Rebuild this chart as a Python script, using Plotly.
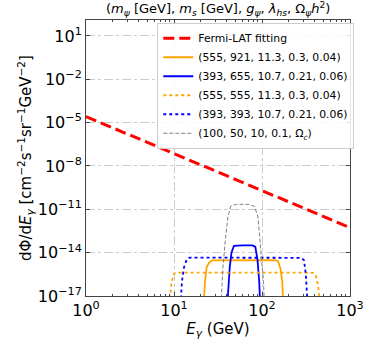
import plotly.graph_objects as go

# Fermi-LAT power-law fit (end points)
fermi_x = [1, 1000]
fermi_y = [2.6e-5, 5.4e-13]

# box-shaped gamma spectra
orange_x = [21.5, 22.5, 23.5, 25, 27, 60, 140, 152, 162, 170, 175]
orange_y = [1e-18, 1e-16, 1e-15, 2e-15, 2.9e-15, 3e-15, 3e-15, 2.6e-15, 8e-16, 1e-16, 1e-18]

blue_x = [40, 41.5, 43, 45, 48, 60, 78, 84, 89, 93, 96]
blue_y = [1e-18, 1e-16, 1e-15, 1e-14, 3e-14, 3.2e-14, 3.2e-14, 2.5e-14, 3e-15, 1e-16, 1e-18]

orange_dot_x = [8.7, 9.0, 9.4, 10, 11, 300, 380, 410, 435, 450, 458]
orange_dot_y = [1e-18, 1e-17, 1e-16, 3.5e-16, 4.1e-16, 4.1e-16, 4e-16, 2.5e-16, 5e-17, 5e-18, 1e-18]

blue_dot_x = [11.8, 12.3, 13, 14, 15, 250, 280, 300, 315, 325, 330]
blue_dot_y = [1e-18, 1e-16, 1e-15, 3.5e-15, 4.5e-15, 4.5e-15, 4.4e-15, 3e-15, 3e-16, 1e-17, 1e-18]

gray_x = [34, 36, 38.5, 41, 44, 50, 70, 82, 90, 98, 104, 107]
gray_y = [1e-18, 1e-15, 1e-13, 3e-12, 1.6e-11, 2.2e-11, 2.2e-11, 1.6e-11, 3e-12, 1e-14, 1e-16, 1e-18]

labels = ["Fermi-LAT fitting",
          "(555, 921, 11.3, 0.3, 0.04)",
          "(393, 655, 10.7, 0.21, 0.06)",
          "(555, 555, 11.3, 0.3, 0.04)",
          "(393, 393, 10.7, 0.21, 0.06)",
          "(100, 50, 10, 0.1, Ω<sub><i>c</i></sub>)"]

x_ticks = [1, 10, 100, 1000]
x_text = ["10<sup>0</sup>", "10<sup>1</sup>", "10<sup>2</sup>", "10<sup>3</sup>"]
x_minor = [m * d for d in (1, 10, 100) for m in range(2, 10)]
y_ticks = [1e-17, 1e-14, 1e-11, 1e-8, 1e-5, 1e-2, 1e1]
y_text = ["10<sup>−17</sup>", "10<sup>−14</sup>", "10<sup>−11</sup>", "10<sup>−8</sup>",
          "10<sup>−5</sup>", "10<sup>−2</sup>", "10<sup>1</sup>"]

fig = go.Figure()
fig.add_trace(go.Scatter(x=fermi_x, y=fermi_y, mode="lines", name=labels[0],
                         line=dict(color="red", width=3, dash="11px,5px")))
fig.add_trace(go.Scatter(x=orange_x, y=orange_y, mode="lines", name=labels[1],
                         line=dict(color="orange", width=1.8)))
fig.add_trace(go.Scatter(x=blue_x, y=blue_y, mode="lines", name=labels[2],
                         line=dict(color="blue", width=1.8)))
fig.add_trace(go.Scatter(x=orange_dot_x, y=orange_dot_y, mode="lines", name=labels[3],
                         line=dict(color="orange", width=1.8, dash="dot")))
fig.add_trace(go.Scatter(x=blue_dot_x, y=blue_dot_y, mode="lines", name=labels[4],
                         line=dict(color="blue", width=1.8, dash="dot")))
fig.add_trace(go.Scatter(x=gray_x, y=gray_y, mode="lines", name=labels[5],
                         line=dict(color="gray", width=1, dash="4px,2px")))

axis_common = dict(
    type="log", showline=True, linecolor="#444", linewidth=1, mirror="allticks",
    ticks="inside", ticklen=4, tickcolor="#444", automargin=False,
    showgrid=True, gridcolor="#cccccc", griddash="dashdot", gridwidth=0.8,
    zeroline=False, tickfont=dict(size=16, color="black"),
)

fig.update_xaxes(**axis_common, range=[0, 3], tickvals=x_ticks, ticktext=x_text,
                 minor=dict(ticks="inside", ticklen=2, tickcolor="#444", showgrid=False,
                            tickvals=x_minor),
                 title=dict(text="<i>E</i><sub><i>γ</i></sub> (GeV)", font=dict(size=15), standoff=4))
fig.update_yaxes(**axis_common, range=[-17, 2.1], tickvals=y_ticks, ticktext=y_text,
                 title=dict(text="dΦ/d<i>E</i><sub><i>γ</i></sub> [cm<sup>−2</sup>s<sup>−1</sup>sr<sup>−1</sup>GeV<sup>−2</sup>]",
                            font=dict(size=15), standoff=2))

fig.add_annotation(
    text="(<i>m<sub>ψ</sub></i> [GeV], <i>m<sub>s</sub></i> [GeV], <i>g<sub>ψ</sub></i>, "
         "<i>λ<sub>hs</sub></i>, Ω<sub><i>ψ</i></sub><i>h</i><sup>2</sup>)",
    xref="paper", yref="paper", x=0.5, y=1, yanchor="bottom", showarrow=False,
    font=dict(size=13, color="black"), yshift=0,
)

fig.update_layout(
    width=371, height=346,
    margin=dict(l=86, r=21, t=20, b=50, autoexpand=False),
    plot_bgcolor="white", paper_bgcolor="white",
    font=dict(family="DejaVu Sans", color="black"),
    legend=dict(x=0.27, y=0.99, xanchor="left", yanchor="top",
                bgcolor="rgba(255,255,255,0.85)", bordercolor="#cccccc", borderwidth=1,
                font=dict(size=10.8), itemwidth=30, tracegroupgap=0),
)

# drop the default page margin so the figure sits at the window's corner
fig.write_html("out.html", config={"displayModeBar": False},
               post_script="document.body.style.margin='0px';")
